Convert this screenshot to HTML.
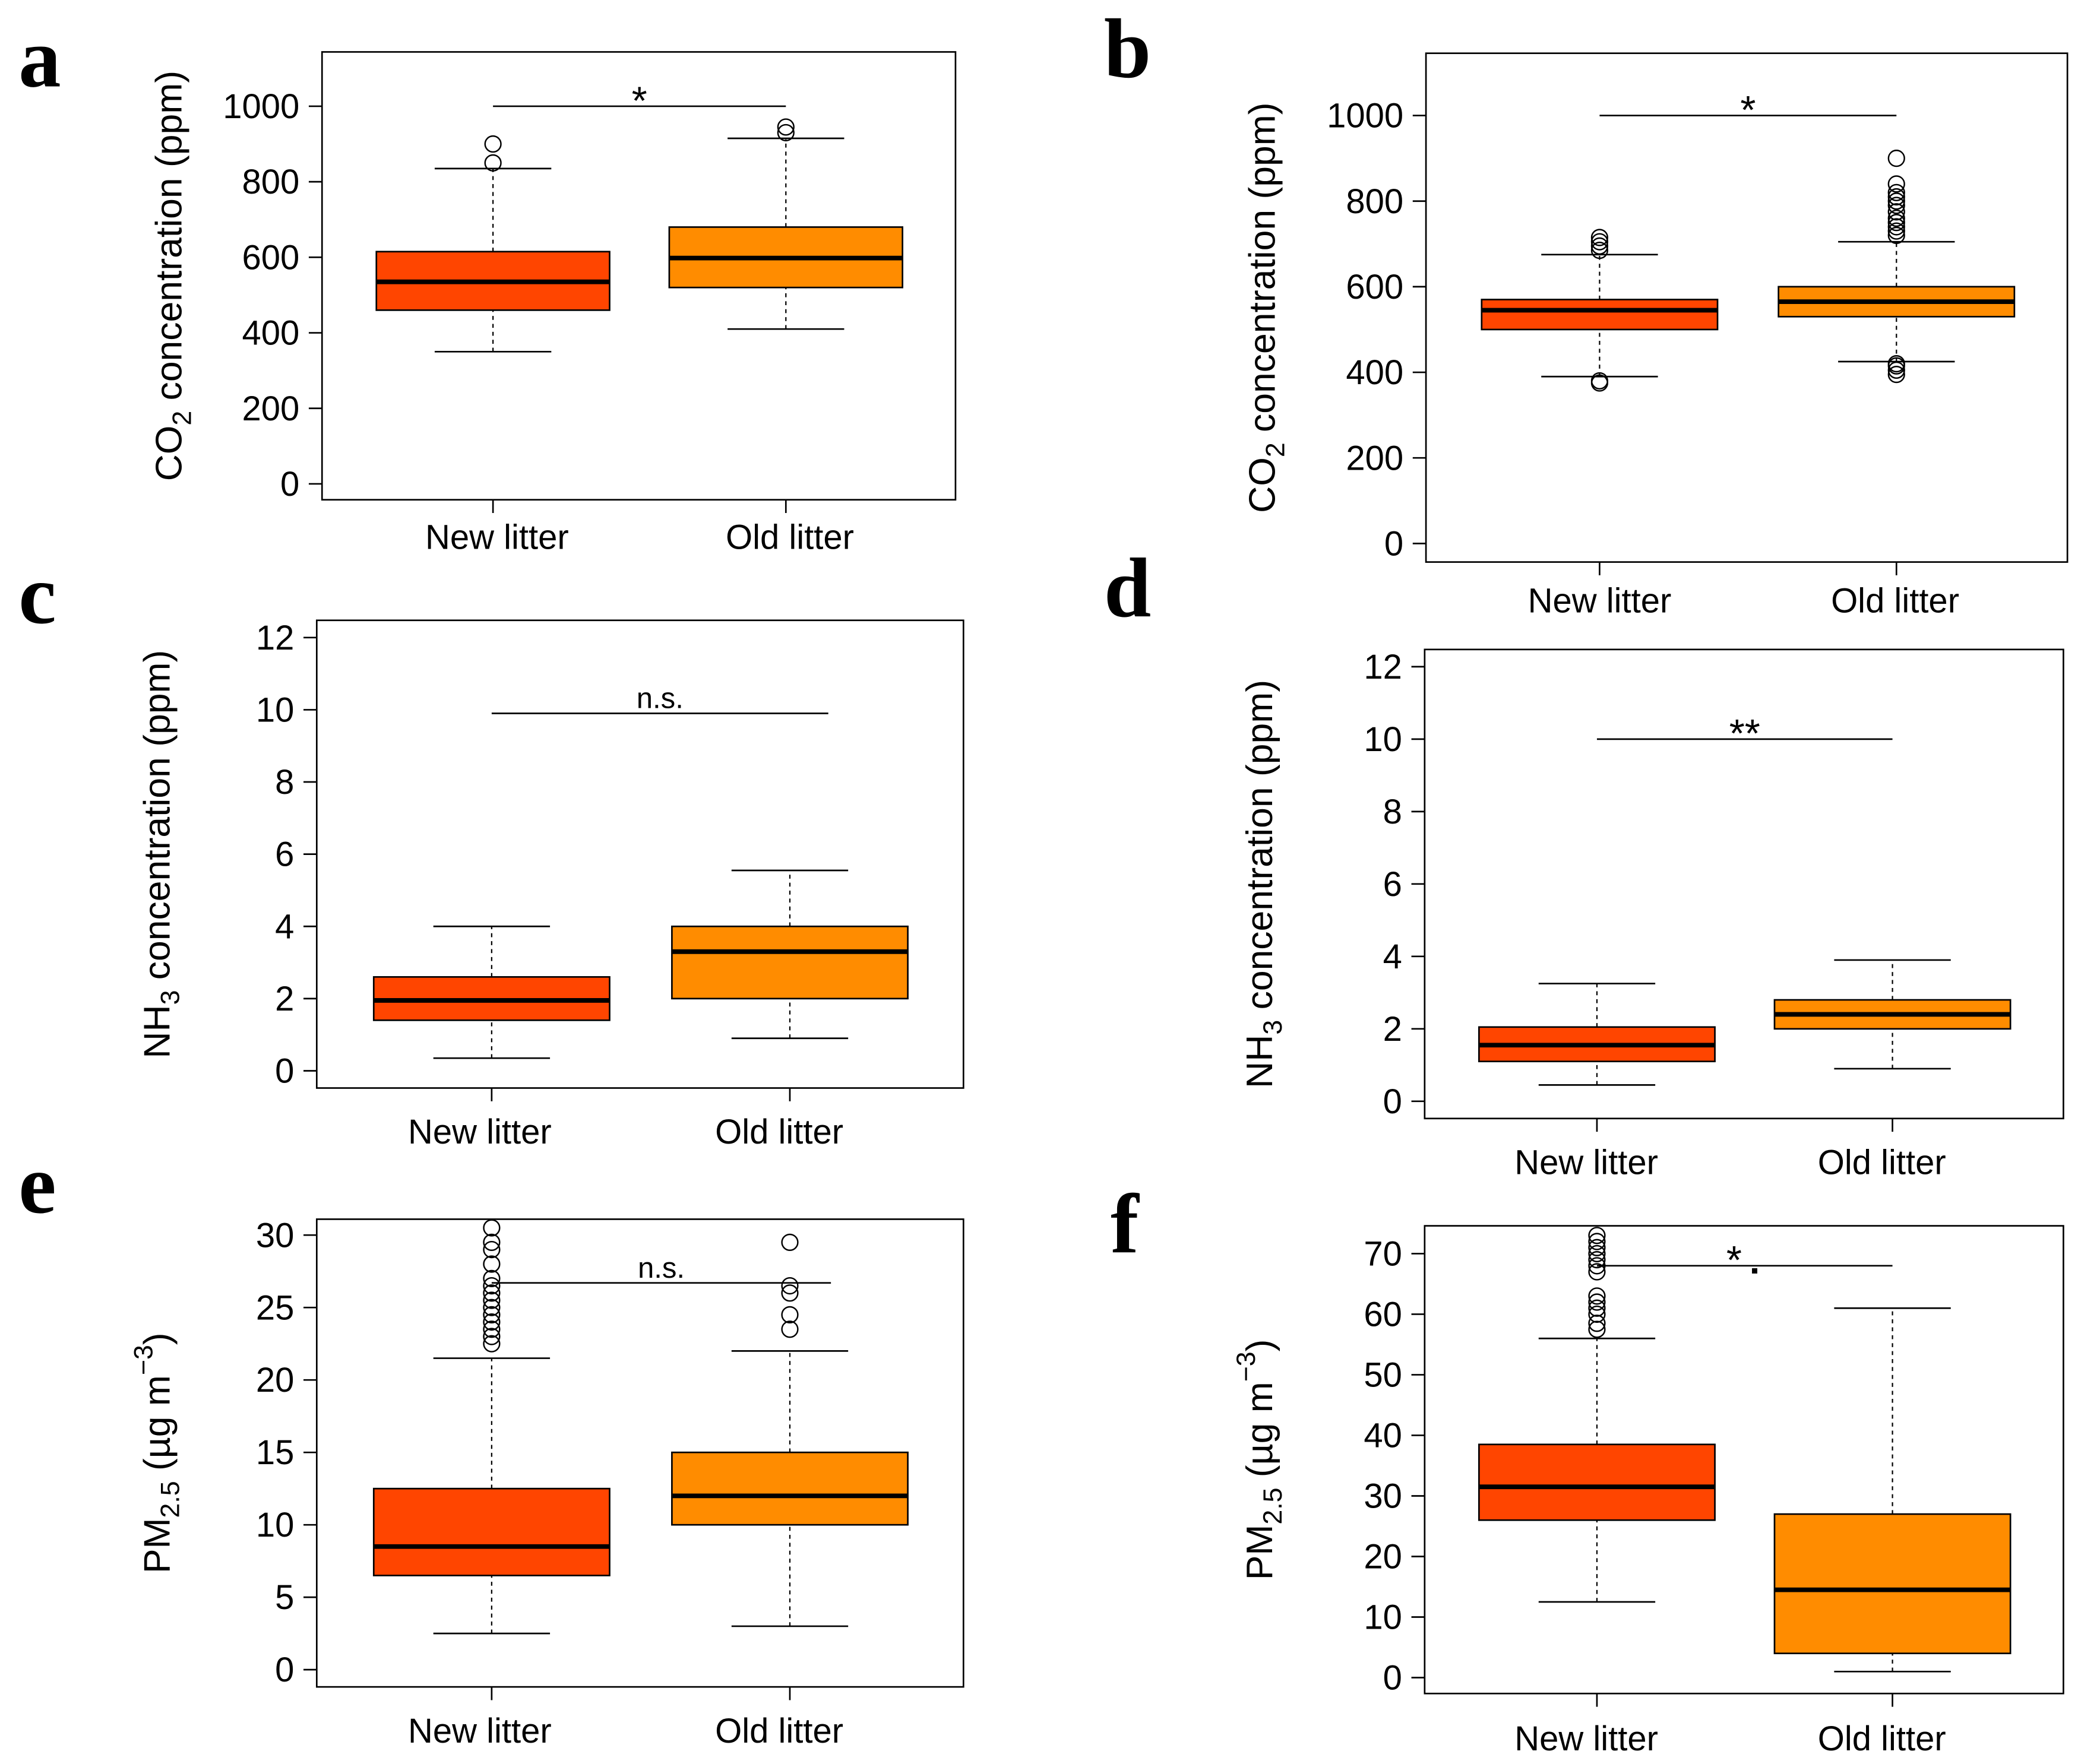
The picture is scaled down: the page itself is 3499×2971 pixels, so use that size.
<!DOCTYPE html>
<html><head><meta charset="utf-8"><style>html,body{margin:0;padding:0;background:#fff}svg{display:block}</style></head>
<body>
<svg id="fig" xmlns="http://www.w3.org/2000/svg" width="3499" height="2971" viewBox="0 0 1568 1331" font-family="Liberation Sans, Arial, sans-serif">
<rect width="1568" height="1331" fill="#fff"/>
</svg>
<script>
// Data arrays: [low whisker, Q1, median, Q3, high whisker]
const groups = ["New litter", "Old litter"];
const aNew = [350, 460, 535, 615, 835]; const aOld = [410, 520, 598, 680, 915];
const aNewOut = [850, 900]; const aOldOut = [930, 945];
const bNew = [390, 500, 545, 570, 675]; const bOld = [425, 530, 565, 600, 705];
const bNewOut = [375, 380, 685, 695, 705, 715];
const bOldOut = [395, 405, 415, 420, 720, 730, 740, 750, 760, 775, 790, 800, 810, 820, 840, 900];
const cNew = [0.35, 1.4, 1.95, 2.6, 4.0]; const cOld = [0.9, 2.0, 3.3, 4.0, 5.55];
const dNew = [0.45, 1.1, 1.55, 2.05, 3.25]; const dOld = [0.9, 2.0, 2.4, 2.8, 3.9];
const eNew = [2.5, 6.5, 8.5, 12.5, 21.5]; const eOld = [3, 10, 12, 15, 22];
const eNewOut = [22.5, 23, 23.5, 24, 24.5, 25, 25.5, 26, 26.5, 27, 28, 29, 29.5, 30.5];
const eOldOut = [23.5, 24.5, 26, 26.5, 29.5];
const fNew = [12.5, 26, 31.5, 38.5, 56]; const fOld = [1, 4, 14.5, 27, 61];
const fNewOut = [57.5, 58.5, 60, 61, 62, 63, 67, 68, 69, 70, 71, 72, 73];
const fOldOut = [];
const ticksCO2 = [0, 200, 400, 600, 800, 1000];
const ticksNH3 = [0, 2, 4, 6, 8, 10, 12];
const ticksPM30 = [0, 5, 10, 15, 20, 25, 30];
const ticksPM70 = [0, 10, 20, 30, 40, 50, 60, 70];
const sigVals = { a: 1000, b: 1000, c: 9.9, d: 10, e: 26.7, f: 68 };
const sigText = { a: "*", b: "*", c: "n.s.", d: "**", e: "n.s.", f: "*" };

const NS = "http://www.w3.org/2000/svg";
const svg = document.getElementById("fig");
function mk(tag, attrs, parent, name, text) {
  const el = document.createElementNS(NS, tag);
  for (const k in attrs) el.setAttribute(k, attrs[k]);
  
  
  if (text !== undefined) el.textContent = text;
  (parent || svg).appendChild(el);
  return el;
}
const panels = [
  {id:"a", box:[243,39,721,377], y0:365, y1:80, v1:1000, ticks:ticksCO2, cx:[372,593], hw:88, data:[aNew,aOld], out:[aNewOut,aOldOut], lab:[375,596], laby:405, sigx:[372,593], title:"CO2", tx:137, letter:[14,65]},
  {id:"b", box:[1076,40,1560,424], y0:410, y1:87, v1:1000, ticks:ticksCO2, cx:[1207,1431], hw:89, data:[bNew,bOld], out:[bNewOut,bOldOut], lab:[1207,1430], laby:453, sigx:[1207,1431], title:"CO2", tx:962, letter:[833,58]},
  {id:"c", box:[239,468,727,821], y0:808, y1:481, v1:12, ticks:ticksNH3, cx:[371,596], hw:89, data:[cNew,cOld], out:[[],[]], lab:[362,588], laby:854, sigx:[371,625], title:"NH3", tx:128, letter:[14,470]},
  {id:"d", box:[1075,490,1557,844], y0:831, y1:503, v1:12, ticks:ticksNH3, cx:[1205,1428], hw:89, data:[dNew,dOld], out:[[],[]], lab:[1197,1420], laby:877, sigx:[1205,1428], title:"NH3", tx:960, letter:[833,465]},
  {id:"e", box:[239,920,727,1273], y0:1260, y1:932, v1:30, ticks:ticksPM30, cx:[371,596], hw:89, data:[eNew,eOld], out:[eNewOut,eOldOut], lab:[362,588], laby:1306, sigx:[371,627], title:"PM", tx:128, letter:[14,915]},
  {id:"f", box:[1075,925,1557,1278], y0:1266, y1:946, v1:70, ticks:ticksPM70, cx:[1205,1428], hw:89, data:[fNew,fOld], out:[fNewOut,fOldOut], lab:[1197,1420], laby:1312, sigx:[1205,1428], title:"PM", tx:960, letter:[838,945]}
];
const colors = ["#FF4500", "#FF8C00"];
panels.forEach(p => {
  const g = mk("g", {}, svg, "panel-" + p.id);
  const y = v => p.y0 + (p.y1 - p.y0) * v / p.v1;
  const [x0, yT, x1, yB] = p.box;
  mk("rect", {x:x0, y:yT, width:x1-x0, height:yB-yT, fill:"none", stroke:"#000", "stroke-width":1.2}, g, "plot-frame");
  p.ticks.forEach(t => {
    mk("line", {x1:x0-10, x2:x0, y1:y(t), y2:y(t), stroke:"#000", "stroke-width":1.2}, g, "y-tick");
    mk("text", {x:x0-17, y:y(t)+9, "text-anchor":"end", "font-size":26}, g, "y-tick-label", String(t));
  });
  groups.forEach((name, i) => {
    const cx = p.cx[i], d = p.data[i];
    mk("line", {x1:cx, x2:cx, y1:yB, y2:yB+10, stroke:"#000", "stroke-width":1.2}, g, "x-tick");
    mk("text", {x:p.lab[i], y:p.laby+9, "text-anchor":"middle", "font-size":26}, g, "x-tick-label", name);
    mk("line", {x1:cx, x2:cx, y1:y(d[0]), y2:y(d[1]), stroke:"#000", "stroke-dasharray":"3,3"}, g, "lower-whisker");
    mk("line", {x1:cx, x2:cx, y1:y(d[3]), y2:y(d[4]), stroke:"#000", "stroke-dasharray":"3,3"}, g, "upper-whisker");
    mk("line", {x1:cx-44, x2:cx+44, y1:y(d[0]), y2:y(d[0]), stroke:"#000", "stroke-width":1.2}, g, "whisker-cap-low");
    mk("line", {x1:cx-44, x2:cx+44, y1:y(d[4]), y2:y(d[4]), stroke:"#000", "stroke-width":1.2}, g, "whisker-cap-high");
    mk("rect", {x:cx-p.hw, y:y(d[3]), width:2*p.hw, height:y(d[1])-y(d[3]), fill:colors[i], stroke:"#000", "stroke-width":1.2}, g, "box-" + (i ? "old" : "new"));
    mk("line", {x1:cx-p.hw, x2:cx+p.hw, y1:y(d[2]), y2:y(d[2]), stroke:"#000", "stroke-width":3.5}, g, "median-line");
    p.out[i].forEach(o => mk("circle", {cx:cx, cy:y(o), r:6, fill:"none", stroke:"#000", "stroke-width":1.1}, g, "outlier-point"));
  });
  const sy = y(sigVals[p.id]);
  mk("line", {x1:p.sigx[0], x2:p.sigx[1], y1:sy, y2:sy, stroke:"#000", "stroke-width":1.2}, g, "significance-line");
  const st = sigText[p.id];
  mk("text", {x:(p.sigx[0]+p.sigx[1])/2 + (p.id==="f"?-8:0), y:sy-(st==="n.s."?4:-6), "text-anchor":"middle", "font-size":st==="n.s."?22:30}, g, "significance-label", st);
  if (p.id === "f") mk("rect", {x:1322, y:957, width:4, height:4, fill:"#000"}, g, "stray-dot");
  const cy = (yT + yB) / 2;
  const t = mk("text", {transform:`translate(${p.tx},${cy}) rotate(-90)`, "text-anchor":"middle", "font-size":28}, g, "y-axis-title");
  const sp = (txt, extra) => { const s = document.createElementNS(NS, "tspan"); s.textContent = txt; for (const k in (extra||{})) s.setAttribute(k, extra[k]); t.appendChild(s); };
  if (p.title === "CO2") { sp("CO"); sp("2", {"font-size":20, dy:7}); sp(" concentration (ppm)", {dy:-7}); }
  else if (p.title === "NH3") { sp("NH"); sp("3", {"font-size":20, dy:7}); sp(" concentration (ppm)", {dy:-7}); }
  else { sp("PM"); sp("2.5", {"font-size":20, dy:7}); sp(" (µg m", {dy:-7}); sp("−3", {"font-size":20, dy:-13}); sp(")", {dy:13}); }
  mk("text", {x:p.letter[0], y:p.letter[1], "font-family":"Liberation Serif, serif", "font-weight":"bold", "font-size":64}, g, "panel-letter", p.id);
});
</script>
</body></html>
